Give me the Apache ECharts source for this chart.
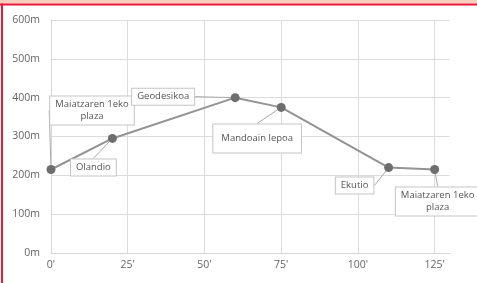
<!DOCTYPE html>
<html>
<head>
<meta charset="utf-8">
<script src="https://cdn.jsdelivr.net/npm/echarts@6/dist/echarts.min.js"></script>
<style>
  html, body { margin: 0; padding: 0; background: #fff; }
  #chart { width: 477px; height: 283px; }
</style>
</head>
<body>
<div id="chart"></div>
<script>
// distance in minutes, altitude in metres
const minutes = [0, 20, 60, 75, 110, 125]
const altitude = [215, 295, 400, 375, 220, 215]
const placeNames = ['Maiatzaren 1eko\nplaza', 'Olandio', 'Geodesikoa', 'Mandoain lepoa', 'Ekutio', 'Maiatzaren 1eko\nplaza']
const xTicks = [0, 25, 50, 75, 100, 125]
const yTicks = [0, 100, 200, 300, 400, 500, 600]

// where each callout sits relative to its point
const calloutShift = [[41, -59], [-19, 29], [-72, -1], [-24, 31], [-34, 18], [3, 32]]

const chart = echarts.init(document.getElementById('chart'))

const option = {
  backgroundColor: '#fff',
  animation: false,
  textStyle: { fontFamily: 'Open Sans' },
  graphic: [
    { type: 'rect', shape: { x: 0, y: 0, width: 477, height: 3.5 }, style: { fill: '#f6cdbd' } },
    { type: 'rect', shape: { x: 0, y: 3.5, width: 477, height: 2 }, style: { fill: '#e5173a' } },
    { type: 'rect', shape: { x: 1, y: 3.5, width: 2, height: 280 }, style: { fill: '#e5173a' } }
  ],
  grid: { left: 51, right: 27, top: 20, bottom: 30 },
  xAxis: {
    type: 'value',
    min: 0,
    max: 130,
    interval: 25,
    axisLine: { show: true, lineStyle: { color: '#d6d6d6', width: 1 } },
    axisTick: { show: false },
    axisLabel: {
      color: '#666',
      fontSize: 10.5,
      margin: 7,
      formatter: v => (xTicks.includes(v) ? v + "'" : '')
    },
    splitLine: { show: true, showMaxLine: false, lineStyle: { color: '#dcdcdc', width: 1 } }
  },
  yAxis: {
    type: 'value',
    min: 0,
    max: 600,
    interval: 100,
    axisLine: { show: true, lineStyle: { color: '#d6d6d6', width: 1 } },
    axisTick: { show: false },
    axisLabel: {
      color: '#666',
      fontSize: 10.5,
      margin: 11,
      formatter: v => (yTicks.includes(v) ? v + 'm' : '')
    },
    splitLine: { show: true, lineStyle: { color: '#dcdcdc', width: 1 } }
  },
  series: [
    {
      type: 'line',
      data: minutes.map((m, i) => [m, altitude[i]]),
      symbol: 'circle',
      symbolSize: 9,
      itemStyle: { color: '#6e6e6e' },
      lineStyle: { color: '#939393', width: 2 },
      label: {
        show: true,
        position: 'inside',
        align: 'center',
        verticalAlign: 'middle',
        formatter: p => placeNames[p.dataIndex],
        color: '#555',
        fontSize: 9.5,
        lineHeight: 12,
        backgroundColor: '#fff',
        borderColor: '#c4c4c4',
        borderWidth: 1,
        padding: [2, 5],
        rich: {}
      },
      labelLine: { show: true, lineStyle: { color: '#aaa', width: 1 } },
      labelLayout: p => ({ dx: calloutShift[p.dataIndex][0], dy: calloutShift[p.dataIndex][1] })
    }
  ]
}

// the Mandoain lepoa callout is a taller box
option.series[0].data[3] = {
  value: option.series[0].data[3],
  label: { padding: [8, 8] }
}

chart.setOption(option)
</script>
</body>
</html>
